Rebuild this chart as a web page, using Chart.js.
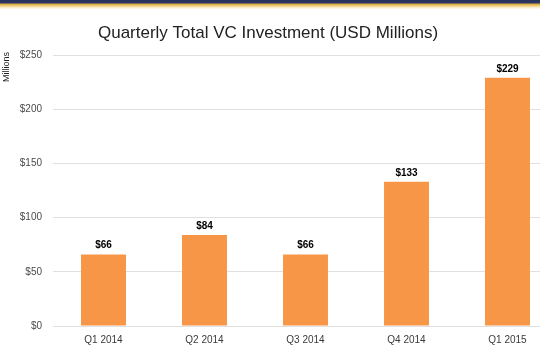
<!DOCTYPE html>
<html>
<head>
<meta charset="utf-8">
<script src="https://cdn.jsdelivr.net/npm/chart.js@4/dist/chart.umd.min.js"></script>
<style>
  html, body { margin: 0; padding: 0; background: #ffffff; overflow: hidden; width: 540px; height: 359px; }
  #wrap { position: relative; width: 540px; height: 359px; overflow: hidden; }
  #band { position: absolute; left: 0; top: 0; width: 540px; height: 9px;
    background: linear-gradient(to bottom, #27305a 0px, #2c3767 3px, #d9a93a 4px, #e9c66e 5.5px, #f8e7bb 7px, #fffaf0 9px); }
  canvas { position: absolute; left: 0; top: 0; }
</style>
</head>
<body>
<div id="wrap">
  <canvas id="c" width="560" height="359"></canvas>
  <div id="band"></div>
</div>
<script>
const chartTitle = "Quarterly Total VC Investment (USD Millions)";
const axisTitle = "Millions";
const categories = ["Q1 2014", "Q2 2014", "Q3 2014", "Q4 2014", "Q1 2015"];
const investment = [66, 84, 66, 133, 229];
const yTicks = [0, 50, 100, 150, 200, 250];

const FONT = "'Liberation Sans', Arial, sans-serif";

const extras = {
  id: 'extras',
  afterDatasetsDraw(chart) {
    const ctx = chart.ctx;
    ctx.save();
    const meta = chart.getDatasetMeta(0);
    ctx.font = "bold 10px " + FONT;
    ctx.fillStyle = "#000000";
    ctx.textAlign = "center";
    ctx.textBaseline = "bottom";
    meta.data.forEach((bar, i) => {
      ctx.fillText("$" + investment[i], bar.x, bar.y - 4);
    });
    ctx.font = "17px " + FONT;
    ctx.fillStyle = "#222222";
    ctx.textBaseline = "middle";
    ctx.fillText(chartTitle, 268, 33);
    ctx.translate(7, 52);
    ctx.rotate(-Math.PI / 2);
    ctx.font = "9px " + FONT;
    ctx.fillStyle = "#222222";
    ctx.textAlign = "right";
    ctx.textBaseline = "middle";
    ctx.fillText(axisTitle, 0, 0);
    ctx.restore();
  }
};

new Chart(document.getElementById('c'), {
  type: 'bar',
  data: {
    labels: categories,
    datasets: [{
      data: investment,
      backgroundColor: '#F79646',
      borderWidth: 0,
      barPercentage: 0.445,
      categoryPercentage: 1.0
    }]
  },
  options: {
    responsive: false,
    animation: false,
    layout: { padding: { top: 55, right: 2, left: 0, bottom: 0 } },
    plugins: { legend: { display: false }, tooltip: { enabled: false }, title: { display: false } },
    scales: {
      x: {
        grid: { display: false, drawTicks: false },
        border: { display: false },
        ticks: { color: '#3a3a3a', font: { family: FONT, size: 10 }, padding: 8, maxRotation: 0 },
        afterFit(scale) { scale.height = 33; }
      },
      y: {
        min: 0, max: 250,
        afterBuildTicks(scale) { scale.ticks = yTicks.map(v => ({ value: v })); },
        grid: { color: '#e0e0e0', lineWidth: 1, drawTicks: false },
        border: { display: false },
        ticks: { color: '#4a4a4a', font: { family: FONT, size: 10 }, padding: 11,
                 callback: v => '$' + v },
        afterFit(scale) { scale.width = 53; }
      }
    }
  },
  plugins: [extras]
});
</script>
</body>
</html>
